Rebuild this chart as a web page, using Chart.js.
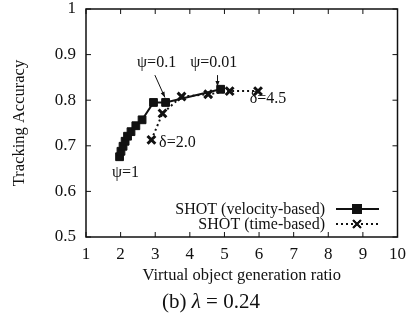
<!DOCTYPE html>
<html>
<head>
<meta charset="utf-8">
<script src="https://cdn.jsdelivr.net/npm/chart.js@4/dist/chart.umd.min.js"></script>
<style>
  body { margin: 0; background: #fff; }
  canvas { display: block; }
</style>
</head>
<body>
<canvas id="acc-chart" width="406" height="321"></canvas>
<script>
const velX = [1.97, 2.01, 2.07, 2.13, 2.2, 2.3, 2.44, 2.62, 2.95, 3.3, 4.89];
const velY = [0.676, 0.688, 0.699, 0.71, 0.721, 0.731, 0.744, 0.757, 0.795, 0.795, 0.824];
const timeX = [2.89, 3.21, 3.76, 4.53, 5.15, 5.97];
const timeY = [0.713, 0.771, 0.808, 0.813, 0.82, 0.82];

const xTicks = [1, 2, 3, 4, 5, 6, 7, 8, 9, 10];
const xTickLabels = ["1", "2", "3", "4", "5", "6", "7", "8", "9", "10"];
const yTicks = [0.5, 0.6, 0.7, 0.8, 0.9, 1];
const yTickLabels = ["0.5", "0.6", "0.7", "0.8", "0.9", "1"];

// text notes on the curves, placed in data units
const notes = [
    { text: "ψ=0.1", x: 3.04, y: 0.881 },
    { text: "ψ=0.01", x: 4.69, y: 0.881 },
    { text: "ψ=1", x: 2.14, y: 0.641 },
    { text: "δ=2.0", x: 3.64, y: 0.707 },
    { text: "δ=4.5", x: 6.26, y: 0.802 }
];
const arrows = [
    { x1: 2.99, y1: 0.855, x2: 3.28, y2: 0.806 },
    { x1: 4.8, y1: 0.855, x2: 4.8, y2: 0.830 }
];

const serif = "'Liberation Serif', 'Times New Roman', serif";
const ink = "#111";
const tickFont = { family: serif, size: 17 };
const titleFont = { family: serif, size: 16.5 };

function arrow(ctx, x1, y1, x2, y2) {
    const a = Math.atan2(y2 - y1, x2 - x1);
    ctx.beginPath();
    ctx.moveTo(x1, y1);
    ctx.lineTo(x2, y2);
    ctx.stroke();
    ctx.beginPath();
    ctx.moveTo(x2, y2);
    ctx.lineTo(x2 - 6 * Math.cos(a - 0.35), y2 - 6 * Math.sin(a - 0.35));
    ctx.lineTo(x2 - 6 * Math.cos(a + 0.35), y2 - 6 * Math.sin(a + 0.35));
    ctx.closePath();
    ctx.fill();
}

const framePlugin = {
    id: "frame",
    afterDraw(chart) {
        const ctx = chart.ctx;
        const { left, right, top, bottom } = chart.chartArea;
        const xs = chart.scales.x, ys = chart.scales.y;
        ctx.save();
        ctx.strokeStyle = ink;
        ctx.fillStyle = ink;
        ctx.lineWidth = 1.5;
        ctx.strokeRect(left, top, right - left, bottom - top);

        // inward ticks on all four sides
        ctx.lineWidth = 1;
        ctx.beginPath();
        xTicks.forEach(v => {
            const px = xs.getPixelForValue(v);
            ctx.moveTo(px, bottom); ctx.lineTo(px, bottom - 5);
            ctx.moveTo(px, top); ctx.lineTo(px, top + 5);
        });
        yTicks.forEach(v => {
            const py = ys.getPixelForValue(v);
            ctx.moveTo(left, py); ctx.lineTo(left + 5, py);
            ctx.moveTo(right, py); ctx.lineTo(right - 5, py);
        });
        ctx.stroke();

        // notes and arrows
        ctx.font = "16px " + serif;
        ctx.textAlign = "center";
        ctx.textBaseline = "middle";
        notes.forEach(n => {
            ctx.fillText(n.text, xs.getPixelForValue(n.x), ys.getPixelForValue(n.y));
        });
        ctx.lineWidth = 1;
        arrows.forEach(a => {
            arrow(ctx, xs.getPixelForValue(a.x1), ys.getPixelForValue(a.y1),
                xs.getPixelForValue(a.x2), ys.getPixelForValue(a.y2));
        });

        // legend, bottom right inside the frame
        const lx1 = 336, lx2 = 379, lxm = 357;
        chart.data.datasets.forEach((ds, i) => {
            const ly = 209 + i * 15;
            ctx.textAlign = "right";
            ctx.fillStyle = ink;
            ctx.fillText(ds.label, 325, ly + 1);
            ctx.strokeStyle = ink;
            ctx.lineWidth = ds.borderWidth;
            ctx.setLineDash(ds.borderDash || []);
            ctx.beginPath();
            ctx.moveTo(lx1, ly); ctx.lineTo(lx2, ly);
            ctx.stroke();
            ctx.setLineDash([]);
            Chart.helpers.drawPoint(ctx, {
                pointStyle: ds.pointStyle,
                radius: ds.pointRadius,
                borderWidth: ds.pointBorderWidth,
                rotation: 0
            }, lxm, ly);
            ctx.fill();
            ctx.stroke();
        });

        // caption under the chart
        const parts = [
            ["(b) ", "21px " + serif],
            ["λ", "italic 21px " + serif],
            [" = 0.24", "21px " + serif]
        ];
        let w = 0;
        parts.forEach(p => { ctx.font = p[1]; w += ctx.measureText(p[0]).width; });
        let cx = 211 - w / 2;
        ctx.textAlign = "left";
        parts.forEach(p => {
            ctx.font = p[1];
            ctx.fillText(p[0], cx, 302);
            cx += ctx.measureText(p[0]).width;
        });
        ctx.restore();
    }
};

const ctx = document.getElementById("acc-chart").getContext("2d");

const accChart = new Chart(ctx, {
    type: "scatter",
    data: {
        datasets: [
            {
                label: "SHOT (velocity-based)",
                data: velX.map((x, i) => ({ x: x, y: velY[i] })),
                showLine: true,
                borderColor: ink,
                backgroundColor: ink,
                borderWidth: 2,
                pointStyle: "rect",
                pointRadius: 5.5,
                pointBorderWidth: 1
            },
            {
                label: "SHOT (time-based)",
                data: timeX.map((x, i) => ({ x: x, y: timeY[i] })),
                showLine: true,
                borderColor: ink,
                backgroundColor: ink,
                borderWidth: 2,
                borderDash: [2, 3],
                pointStyle: "crossRot",
                pointRadius: 5.5,
                pointBorderWidth: 3
            }
        ]
    },
    options: {
        responsive: false,
        animation: false,
        layout: { padding: { left: 10, top: 9, right: 8, bottom: 35 } },
        plugins: {
            legend: { display: false },
            tooltip: { enabled: false }
        },
        scales: {
            x: {
                type: "linear",
                min: 1,
                max: 10,
                afterBuildTicks: s => { s.ticks = xTicks.map(v => ({ value: v })); },
                afterFit: s => { s.height = 49; s.paddingLeft = 0; s.paddingRight = 0; },
                ticks: {
                    callback: (v, i) => xTickLabels[i],
                    autoSkip: false,
                    maxRotation: 0,
                    padding: 7,
                    font: tickFont,
                    color: ink
                },
                grid: { display: false, drawTicks: false },
                border: { display: false },
                title: {
                    display: true,
                    text: "Virtual object generation ratio",
                    font: titleFont,
                    color: ink,
                    padding: 0
                }
            },
            y: {
                type: "linear",
                min: 0.5,
                max: 1,
                afterBuildTicks: s => { s.ticks = yTicks.map(v => ({ value: v })); },
                afterFit: s => { s.width = 76; s.paddingTop = 0; s.paddingBottom = 0; },
                ticks: {
                    callback: (v, i) => yTickLabels[i],
                    padding: 10,
                    font: tickFont,
                    color: ink
                },
                grid: { display: false, drawTicks: false },
                border: { display: false },
                title: {
                    display: true,
                    text: "Tracking Accuracy",
                    font: titleFont,
                    color: ink,
                    padding: 0
                }
            }
        }
    },
    plugins: [framePlugin]
});
</script>
</body>
</html>
